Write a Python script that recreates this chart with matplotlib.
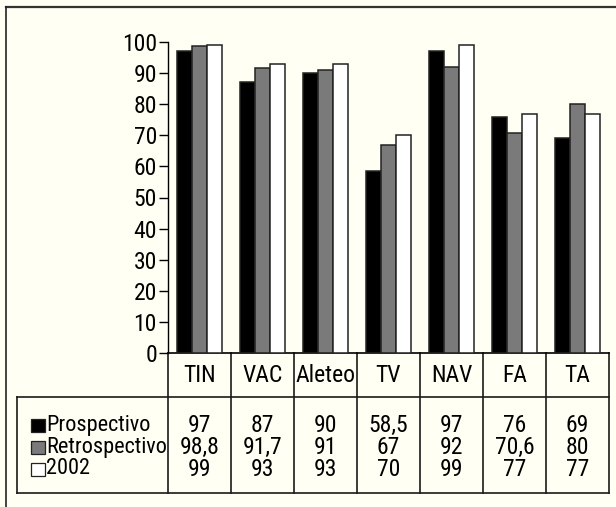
import matplotlib
matplotlib.use('Agg')
import matplotlib.pyplot as plt
import matplotlib.transforms as mtransforms
from matplotlib import font_manager
from matplotlib.patches import Rectangle
from matplotlib.lines import Line2D
import numpy as np

categories = ['TIN', 'VAC', 'Aleteo', 'TV', 'NAV', 'FA', 'TA']
series_names = ['Prospectivo', 'Retrospectivo', '2002']
prospectivo = [97, 87, 90, 58.5, 97, 76, 69]
retrospectivo = [98.8, 91.7, 91, 67, 92, 70.6, 80]
serie_2002 = [99, 93, 93, 70, 99, 77, 77]
series_values = [prospectivo, retrospectivo, serie_2002]
colors = ['#000000', '#7a7a7a', '#ffffff']

# look for a narrow sans face
fonts = font_manager.fontManager.ttflist
narrow = [f for f in fonts if 'Narrow' in f.name or 'Condensed' in f.name
          or f.stretch in ('condensed', 'semi-condensed', 'extra-condensed')]
narrow = [f for f in narrow if f.weight in (400, 'normal', 'regular') and f.style == 'normal']
if narrow:
    pick = sorted(narrow, key=lambda f: (0 if 'Liberation' in f.name else
                                         1 if 'Roboto' in f.name else 2))[0]
    fp = font_manager.FontProperties(fname=pick.fname)
else:
    fp = font_manager.FontProperties(family='DejaVu Sans')
fp.set_size(17)
fp_leg = fp.copy()
fp_leg.set_size(16)

W, H = 616, 507
bg = '#fffff3'
fig = plt.figure(figsize=(W / 100, H / 100), dpi=100, facecolor=bg)

# pixel coords, origin top-left
px = mtransforms.Affine2D().scale(1 / W, -1 / H).translate(0, 1) + fig.transFigure

# layout (pixels)
ax_left, ax_right = 168, 609
ax_top, ax_bottom = 42, 353
header_bottom = 397
table_bottom = 493
table_left = 17
row_y = [425, 447, 469]

ax = fig.add_axes([ax_left / W, (H - ax_bottom) / H,
                   (ax_right - ax_left) / W, (ax_bottom - ax_top) / H])
ax.set_facecolor(bg)

x = np.arange(len(categories))
bw = 0.235
for k, vals in enumerate(series_values):
    ax.bar(x + (k - 1) * bw, vals, bw, color=colors[k], edgecolor='#222222',
           linewidth=1.1, zorder=3)

ax.set_xlim(-0.5, len(categories) - 0.5)
ax.set_ylim(0, 100)
ax.set_yticks(range(0, 101, 10))
ax.tick_params(axis='y', direction='out', length=6.5, width=1, pad=1.5, colors='black')
for lab in ax.get_yticklabels():
    lab.set_fontproperties(fp)
ax.set_xticks([])
for s in ['top', 'right']:
    ax.spines[s].set_visible(False)
ax.spines['left'].set_linewidth(1)
ax.spines['bottom'].set_linewidth(1.2)

# data table under the axes
tx = mtransforms.blended_transform_factory(ax.transData, px)
lc = '#1a1a1a'
for i in range(len(categories) + 1):
    ax.add_line(Line2D([i - 0.5, i - 0.5], [ax_bottom, table_bottom],
                       transform=tx, color=lc, lw=1.2, clip_on=False))
for yy in [header_bottom, table_bottom]:
    fig.add_artist(Line2D([table_left, ax_right], [yy, yy], transform=px,
                          color=lc, lw=1.2))
fig.add_artist(Line2D([table_left, table_left], [header_bottom, table_bottom],
                      transform=px, color=lc, lw=1.2))

def fmt(v):
    s = ('%g' % v)
    return s.replace('.', ',')

for i, cat in enumerate(categories):
    ax.text(i, (ax_bottom + header_bottom) / 2, cat, transform=tx,
            ha='center', va='center', fontproperties=fp)
    for k, vals in enumerate(series_values):
        ax.text(i, row_y[k], fmt(vals[i]), transform=tx,
                ha='center', va='center', fontproperties=fp)

# legend keys in the first column
for k, name in enumerate(series_names):
    fig.add_artist(Rectangle((31, row_y[k] - 6.5), 13.5, 13.5, transform=px,
                             facecolor=colors[k], edgecolor='#222222', lw=0.9))
    fig.text(46 / W, 1 - row_y[k] / H, name, ha='left', va='center',
             fontproperties=fp_leg)

# outer frame (top and left edges)
fig.add_artist(Line2D([6, W], [7, 7], transform=px, color='#333333', lw=1.6))
fig.add_artist(Line2D([6, 6], [7, H], transform=px, color='#222222', lw=1.2))

fig.savefig('out.png', dpi=100, facecolor=bg)
